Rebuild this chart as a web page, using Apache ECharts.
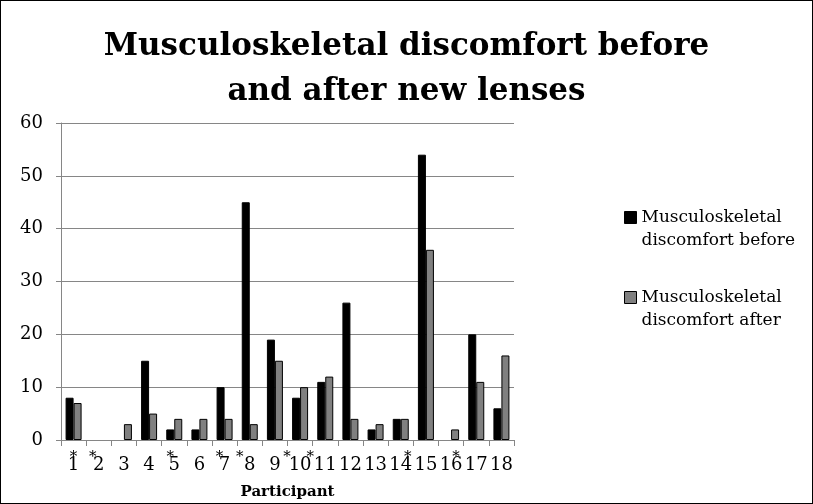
<!DOCTYPE html>
<html><head><meta charset="utf-8">
<script src="https://cdn.jsdelivr.net/npm/echarts@6/dist/echarts.min.js"></script>
<style>html,body{margin:0;padding:0;background:#fff}#c{width:813px;height:504px;box-sizing:border-box;border:1px solid #000}</style>
</head><body><div id="c"></div>
<script>
const categories = ['1','2','3','4','5','6','7','8','9','10','11','12','13','14','15','16','17','18'];
const before = [8,0,0,15,2,2,10,45,19,8,11,26,2,4,54,0,20,6];
const after = [7,0,3,5,4,4,4,3,15,10,12,4,3,4,36,2,11,16];
const marked = ['1','2','5','7','8','10','11','14','16'];
const yTicks = [0,10,20,30,40,50,60];
const seriesNames = ['Musculoskeletal\ndiscomfort before','Musculoskeletal\ndiscomfort after'];
const FONT = 'DejaVu Serif';
// horizontal shift of the asterisk relative to the label (px)
const starShift = {'1':0,'2':-6,'5':-4,'7':-5,'8':-10,'10':-13,'11':-15,'14':7,'16':5};
const rich = {n:{fontSize:18,fontFamily:FONT,color:'#000',lineHeight:8},
  s0:{fontSize:15,fontFamily:FONT,color:'#000',lineHeight:8}};
marked.forEach(k=>{
  const s = starShift[k];
  rich['s'+k] = {fontSize:15,fontFamily:FONT,color:'#000',lineHeight:8,
    padding: s<0 ? [0,-2*s,0,0] : [0,0,0,2*s]};
});
const toData = arr => arr.map(v => v === 0 ? {value:0,itemStyle:{borderWidth:0}} : v);
const chart = echarts.init(document.getElementById('c'));
chart.setOption({
  animation:false,
  title:{text:'Musculoskeletal discomfort before\nand after new lenses',left:'center',top:18,
    textStyle:{fontFamily:FONT,fontWeight:'bold',fontSize:31,lineHeight:45,color:'#000'}},
  legend:{orient:'vertical',left:618,top:180,itemGap:17,itemWidth:12,itemHeight:12,
    icon:'rect',
    formatter:name=>{const p=name.split('\n');return '{e| }\n{t|'+p[0]+'}\n{t|'+p[1]+'}';},
    textStyle:{rich:{e:{fontSize:17,fontFamily:FONT,lineHeight:23},
      t:{fontFamily:FONT,fontSize:17,lineHeight:23,color:'#000'}}},
    data:[{name:seriesNames[0],itemStyle:{borderColor:'#000',borderWidth:1}},
          {name:seriesNames[1],itemStyle:{borderColor:'#000',borderWidth:1}}]},
  grid:{left:60,right:298,top:122,bottom:63,containLabel:false,outerBoundsMode:'none'},
  xAxis:{type:'category',data:categories,
    name:'Participant',nameLocation:'middle',nameGap:45,
    nameTextStyle:{fontFamily:FONT,fontWeight:'bold',fontSize:15,color:'#000'},
    axisLine:{lineStyle:{color:'#868686',width:1}},
    axisTick:{show:true,length:6,lineStyle:{color:'#868686'}},
    axisLabel:{margin:13,interval:0,rich:rich,
      formatter:v=> marked.includes(v) ? '{s'+v+'|*}\n{n|'+v+'}' : '{s0| }\n{n|'+v+'}'}},
  yAxis:{type:'value',min:0,max:60,interval:10,
    axisLine:{show:true,lineStyle:{color:'#868686'}},
    axisTick:{show:true,length:5,lineStyle:{color:'#868686'}},
    splitLine:{lineStyle:{color:'#868686',width:1}},
    axisLabel:{margin:18,fontFamily:FONT,fontSize:18,color:'#000',
      formatter:v=> yTicks.includes(v) ? String(v) : ''}},
  series:[
    {name:seriesNames[0],type:'bar',data:toData(before),barWidth:8,barGap:'0%',
      itemStyle:{color:'#000',borderColor:'#000',borderWidth:1}},
    {name:seriesNames[1],type:'bar',data:toData(after),barWidth:8,barGap:'0%',
      itemStyle:{color:'#808080',borderColor:'#000',borderWidth:1}}
  ]
});
</script></body></html>
